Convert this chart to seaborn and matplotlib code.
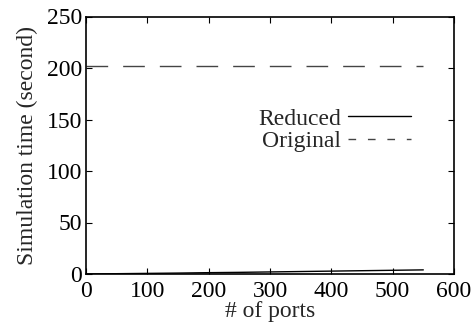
import matplotlib
matplotlib.use("Agg")
import matplotlib.pyplot as plt
import seaborn as sns
import pandas as pd

ports = [0, 50, 100, 150, 200, 250, 300, 350, 400, 450, 500, 550]
reduced = [0.1, 0.3, 0.6, 0.9, 1.3, 1.6, 2.0, 2.4, 2.8, 3.2, 3.6, 4.0]
original = [202, 202, 202, 202, 202, 202, 202, 202, 202, 202, 202, 202]
x_ticks = [0, 100, 200, 300, 400, 500, 600]
y_ticks = [0, 50, 100, 150, 200, 250]

sns.set_theme(style="ticks")
plt.rcParams['font.family'] = ['Liberation Serif', 'DejaVu Serif']
plt.rcParams['mathtext.fontset'] = 'stix'

fig = plt.figure(figsize=(4.76, 3.24), dpi=100)
ax = fig.add_axes([86/476, 1 - 274/324, (454-86)/476, (274-16.5)/324])

df = pd.DataFrame({"ports": ports, "Reduced": reduced, "Original": original})
sns.lineplot(data=df, x="ports", y="Reduced", ax=ax, color="black", lw=1.0, label="Reduced")
sns.lineplot(data=df, x="ports", y="Original", ax=ax, color="#444444", lw=1.0, label="Original")
ax.lines[1].set_dashes((15.6, 10.8))

ax.set_xlim(0, 600)
ax.set_ylim(0, 250)
ax.set_xticks(x_ticks)
ax.set_yticks(y_ticks)
ax.tick_params(direction="in", length=4, width=0.8, labelsize=17, top=True, right=True,
               colors="black", pad=3)
ax.tick_params(axis="x", pad=5)
for s in ax.spines.values():
    s.set_linewidth(1.2)
    s.set_color("black")
ax.set_xlabel("# of ports", fontsize=17, labelpad=-1)
ax.set_ylabel("Simulation time (second)", fontsize=17, labelpad=6)

leg = ax.legend(loc="upper right", bbox_to_anchor=(0.883, 0.644), frameon=False, markerfirst=False,
                fontsize=17, handlelength=2.65, handletextpad=0.3, labelspacing=0.05,
                borderaxespad=0, borderpad=0)
leg.get_lines()[1].set_dashes((5.5, 8.5))
for t in leg.get_texts():
    t.set_ha("right")

fig.savefig("out.png", dpi=100)
